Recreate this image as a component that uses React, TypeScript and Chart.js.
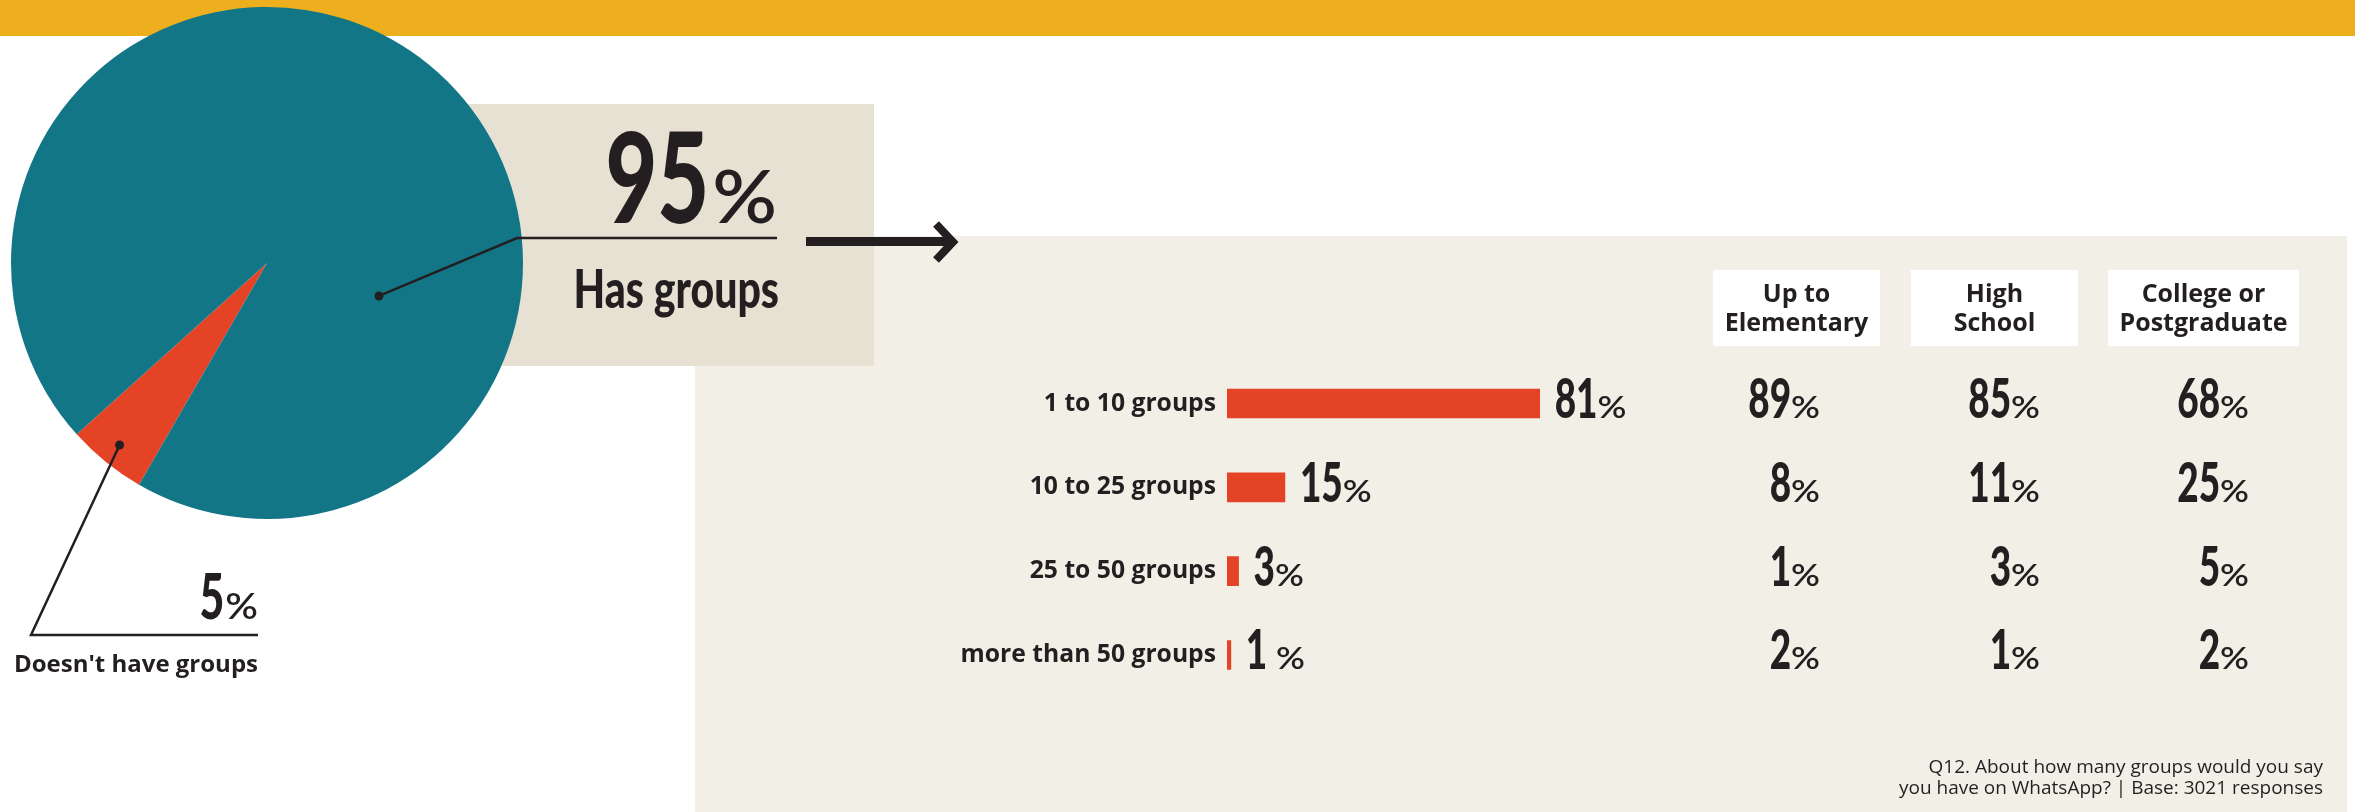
import React, { useEffect, useRef } from "react";
import { Chart, registerables } from "chart.js";
Chart.register(...registerables);

// ---------- data ----------
const pieLabels = ["Doesn't have groups", "Has groups"];
const pieValues = [5, 95];
const barCategories = ["1 to 10 groups", "10 to 25 groups", "25 to 50 groups", "more than 50 groups"];
const barValues = [81, 15, 3, 1];
const barValueText = ["81", "15", "3", "1 "];
const eduHeaders = [
  ["Up to", "Elementary"],
  ["High", "School"],
  ["College or", "Postgraduate"],
];
const eduElementary = [89, 8, 1, 2];
const eduHighSchool = [85, 11, 3, 1];
const eduCollege = [68, 25, 5, 2];
const footnote = [
  "Q12. About how many groups would you say",
  "you have on WhatsApp? | Base: 3021 responses",
];

// ---------- style ----------
const TEAL = "#137686";
const RED = "#E44326";
const INK = "#231F20";
const YELLOW = "#EEAF1E";
const BOX = "#E6E1D3";
const PANEL = "#F2EFE7";
const NUM_FONT = "Lato";
const LABEL_FONT = "'Open Sans'";

type PctStyle = { dSize: number; dScale: number; pSize: number; pScale: number; gap: number };

function pctWidth(ctx: CanvasRenderingContext2D, num: string, s: PctStyle) {
  ctx.save();
  ctx.font = `600 ${s.pSize}px ${NUM_FONT}`;
  const pw = ctx.measureText("%").width * s.pScale;
  ctx.font = `900 ${s.dSize}px ${NUM_FONT}`;
  const dw = ctx.measureText(num).width * s.dScale;
  ctx.restore();
  return { pw, dw, total: pw + dw + s.gap };
}

function drawPctRight(ctx: CanvasRenderingContext2D, num: string, xRight: number, baseline: number, s: PctStyle) {
  const { pw } = pctWidth(ctx, num, s);
  ctx.save();
  ctx.fillStyle = INK;
  ctx.textBaseline = "alphabetic";
  ctx.textAlign = "right";
  ctx.font = `600 ${s.pSize}px ${NUM_FONT}`;
  ctx.save();
  ctx.translate(xRight, baseline);
  ctx.scale(s.pScale, 1);
  ctx.fillText("%", 0, 0);
  ctx.restore();
  ctx.font = `900 ${s.dSize}px ${NUM_FONT}`;
  ctx.save();
  ctx.translate(xRight - pw - s.gap, baseline);
  ctx.scale(s.dScale, 1);
  ctx.fillText(num, 0, 0);
  ctx.restore();
  ctx.restore();
}

function drawPctLeft(ctx: CanvasRenderingContext2D, num: string, xLeft: number, baseline: number, s: PctStyle) {
  const { total } = pctWidth(ctx, num, s);
  drawPctRight(ctx, num, xLeft + total, baseline, s);
}

function drawScaledText(ctx: CanvasRenderingContext2D, text: string, x: number, y: number, font: string, scale: number, align: CanvasTextAlign) {
  ctx.save();
  ctx.fillStyle = INK;
  ctx.font = font;
  ctx.textAlign = align;
  ctx.textBaseline = "alphabetic";
  ctx.translate(x, y);
  ctx.scale(scale, 1);
  ctx.fillText(text, 0, 0);
  ctx.restore();
}

const SMALL_PCT: PctStyle = { dSize: 56, dScale: 0.66, pSize: 31, pScale: 1.15, gap: 0 };
const BIG_PCT: PctStyle = { dSize: 126, dScale: 0.71, pSize: 74, pScale: 1.08, gap: 3 };
const MID_PCT: PctStyle = { dSize: 62, dScale: 0.69, pSize: 36, pScale: 1.12, gap: 1 };

// ---------- plugins ----------
const pieOverlay = {
  id: "pieOverlay",
  afterDraw(chart: any) {
    const ctx: CanvasRenderingContext2D = chart.ctx;
    const meta = chart.getDatasetMeta(0);
    const red = meta.data[0] as any;
    const cx = red.x;
    const cy = red.y;
    const R = red.outerRadius;
    const mid = (red.startAngle + red.endAngle) / 2;
    const rd = { x: cx + Math.cos(mid) * R * 0.915, y: cy + Math.sin(mid) * R * 0.915 };
    const ta = (16.4 * Math.PI) / 180;
    const td = { x: cx + Math.cos(ta) * R * 0.456, y: cy + Math.sin(ta) * R * 0.456 };

    ctx.save();
    ctx.strokeStyle = INK;
    ctx.fillStyle = INK;
    ctx.lineWidth = 2.5;
    ctx.lineJoin = "miter";
    // teal callout
    ctx.beginPath();
    ctx.moveTo(td.x, td.y);
    ctx.lineTo(517, 238);
    ctx.lineTo(777, 238);
    ctx.stroke();
    ctx.beginPath();
    ctx.arc(td.x, td.y, 4.5, 0, Math.PI * 2);
    ctx.fill();
    // red callout
    ctx.beginPath();
    ctx.moveTo(rd.x, rd.y);
    ctx.lineTo(31, 635);
    ctx.lineTo(258, 635);
    ctx.stroke();
    ctx.beginPath();
    ctx.arc(rd.x, rd.y, 4.5, 0, Math.PI * 2);
    ctx.fill();

    // arrow
    ctx.lineWidth = 9;
    ctx.lineCap = "butt";
    ctx.beginPath();
    ctx.moveTo(806, 241.5);
    ctx.lineTo(950, 241.5);
    ctx.stroke();
    ctx.lineWidth = 8;
    ctx.beginPath();
    ctx.moveTo(936, 224);
    ctx.lineTo(953, 242);
    ctx.lineTo(936, 260);
    ctx.stroke();
    ctx.restore();

    // texts
    drawPctRight(ctx, String(pieValues[1]), 777, 223, BIG_PCT);
    drawScaledText(ctx, pieLabels[1], 779, 308, `900 54px ${NUM_FONT}`, 0.76, "right");
    drawPctRight(ctx, String(pieValues[0]), 258, 619, MID_PCT);
    drawScaledText(ctx, pieLabels[0], 258, 672, `700 24px ${LABEL_FONT}`, 1, "right");
  },
};

const barOverlay = {
  id: "barOverlay",
  afterDraw(chart: any) {
    const ctx: CanvasRenderingContext2D = chart.ctx;
    const meta = chart.getDatasetMeta(0);
    // value labels
    meta.data.forEach((bar: any, i: number) => {
      const baseline = bar.y + bar.height / 2;
      drawPctLeft(ctx, barValueText[i], bar.x + 15, baseline, SMALL_PCT);
    });
    // table headers
    const boxes = [
      [1018, 1185],
      [1216, 1383],
      [1413, 1604],
    ];
    const cols = [eduElementary, eduHighSchool, eduCollege];
    const rights = [1125, 1345, 1554];
    ctx.save();
    boxes.forEach(([l, r], c) => {
      ctx.fillStyle = "#FFFFFF";
      ctx.fillRect(l, 34, r - l, 76);
      ctx.fillStyle = INK;
      ctx.font = `700 25px ${LABEL_FONT}`;
      ctx.textAlign = "center";
      ctx.textBaseline = "alphabetic";
      ctx.fillText(eduHeaders[c][0], (l + r) / 2, 66);
      ctx.fillText(eduHeaders[c][1], (l + r) / 2, 95);
    });
    ctx.restore();
    cols.forEach((vals, c) => {
      vals.forEach((v, i) => {
        const bar = meta.data[i] as any;
        drawPctRight(ctx, String(v), rights[c], bar.y + bar.height / 2, SMALL_PCT);
      });
    });
    // footnote
    ctx.save();
    ctx.fillStyle = INK;
    ctx.font = `500 19px ${LABEL_FONT}`;
    ctx.textAlign = "right";
    ctx.textBaseline = "alphabetic";
    ctx.fillText(footnote[0], 1628, 537);
    ctx.fillText(footnote[1], 1628, 558);
    ctx.restore();
  },
};

export default function App() {
  const pieRef = useRef<HTMLCanvasElement>(null);
  const barRef = useRef<HTMLCanvasElement>(null);

  useEffect(() => {
    document.body.style.margin = "0";
    const pie = new Chart(pieRef.current as HTMLCanvasElement, {
      type: "pie",
      data: {
        labels: pieLabels,
        datasets: [{ data: pieValues, backgroundColor: [RED, TEAL], borderWidth: 0 }],
      },
      options: {
        responsive: false,
        animation: false,
        rotation: 210,
        layout: { padding: { left: 11, top: 7, right: 477, bottom: 293 } },
        plugins: { legend: { display: false }, tooltip: { enabled: false } },
      },
      plugins: [pieOverlay],
    } as any);

    const bar = new Chart(barRef.current as HTMLCanvasElement, {
      type: "bar",
      data: {
        labels: barCategories,
        datasets: [{ data: barValues, backgroundColor: RED, borderWidth: 0, barThickness: 29 }],
      },
      options: {
        indexAxis: "y",
        responsive: false,
        animation: false,
        layout: { padding: { left: 0, right: 734, top: 125.6, bottom: 115.1 } },
        scales: {
          x: { display: false, min: 0, max: 100 },
          y: {
            grid: { display: false, drawTicks: false },
            border: { display: false },
            ticks: { color: INK, padding: 11, font: { family: "Open Sans", weight: "bold", size: 24.7 } },
            afterFit: (axis: any) => {
              axis.width = 532;
            },
          },
        },
        plugins: { legend: { display: false }, tooltip: { enabled: false } },
      },
      plugins: [barOverlay],
    } as any);

    return () => {
      pie.destroy();
      bar.destroy();
    };
  }, []);

  return (
    <div style={{ position: "relative", width: 2355, height: 812, background: "#FFFFFF", overflow: "hidden" }}>
      <div style={{ position: "absolute", left: 0, top: 0, width: 2355, height: 36, background: YELLOW }} />
      <div style={{ position: "absolute", left: 695, top: 236, width: 1652, height: 576, background: PANEL }} />
      <div style={{ position: "absolute", left: 420, top: 104, width: 454, height: 262, background: BOX }} />
      <canvas
        ref={barRef}
        width={1652}
        height={576}
        style={{ position: "absolute", left: 695, top: 236, width: 1652, height: 576 }}
      />
      <canvas
        ref={pieRef}
        width={1000}
        height={812}
        style={{ position: "absolute", left: 0, top: 0, width: 1000, height: 812 }}
      />
    </div>
  );
}
